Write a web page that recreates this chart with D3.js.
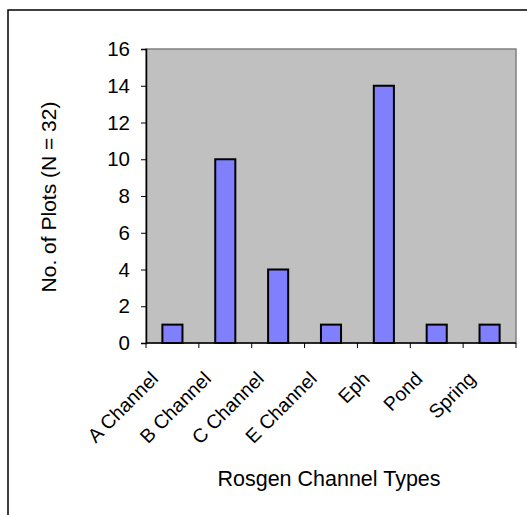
<!DOCTYPE html>
<html lang="en">
<head>
    <meta charset="UTF-8">
    <title>Rosgen Channel Types</title>
    <script src="https://cdn.jsdelivr.net/npm/d3@7/dist/d3.min.js"></script>
    <style>
        body { margin: 0; background: #fff; }
        text { font-family: "Liberation Sans", Arial, sans-serif; fill: #000; }
    </style>
</head>
<body>
<svg width="527" height="515" id="main"></svg>
<script>
    const categories = ['A Channel', 'B Channel', 'C Channel', 'E Channel', 'Eph', 'Pond', 'Spring'];
    const plots = [1, 10, 4, 1, 14, 1, 1];
    const yTicks = [0, 2, 4, 6, 8, 10, 12, 14, 16];

    let svg = d3.select('#main');
    let margin = {top: 49, left: 146, right: 11, bottom: 172};
    const innerWidth = 527 - margin.left - margin.right;
    const innerHeight = 515 - margin.top - margin.bottom;

    // outer frame (cut off at right and bottom in the original)
    svg.append('rect').attr('x', 8).attr('y', 10).attr('width', 600).attr('height', 600)
        .attr('fill', 'none').attr('stroke', '#000').attr('stroke-width', 1.5);

    let g = svg.append('g').attr('transform', `translate(${margin.left}, ${margin.top})`);

    let xScale = d3.scaleBand().domain(categories).range([0, innerWidth]).paddingInner(0.62).paddingOuter(0.31);
    let xBand = d3.scaleBand().domain(categories).range([0, innerWidth]);
    let yScale = d3.scaleLinear().domain([0, 16]).range([innerHeight, 0]);

    g.append('rect').attr('width', innerWidth).attr('height', innerHeight)
        .attr('fill', '#c0c0c0').attr('stroke', '#808080').attr('stroke-width', 1.5);

    g.selectAll('.bar').data(categories).enter().append('rect')
        .attr('class', 'bar')
        .attr('x', d => xScale(d))
        .attr('y', (d, i) => yScale(plots[i]))
        .attr('width', xScale.bandwidth())
        .attr('height', (d, i) => innerHeight - yScale(plots[i]))
        .attr('fill', '#8080ff').attr('stroke', '#000').attr('stroke-width', 2);

    let yAxis = d3.axisLeft(yScale).tickValues(yTicks).tickSize(5).tickPadding(11);
    let ya = g.append('g').call(yAxis);
    ya.selectAll('text').attr('font-size', '20.5px').style('font-family', '"Liberation Sans", Arial, sans-serif');

    // x axis: ticks sit on the band boundaries
    let xa = g.append('g').attr('transform', `translate(0, ${innerHeight})`);
    xa.append('line').attr('x1', 0).attr('x2', innerWidth).attr('stroke', '#000').attr('stroke-width', 1.5);
    xa.selectAll('.xt').data(categories.concat(['end'])).enter().append('line')
        .attr('x1', (d, i) => i * xBand.step()).attr('x2', (d, i) => i * xBand.step())
        .attr('y1', 0).attr('y2', 5).attr('stroke', '#000');
    xa.selectAll('.xl').data(categories).enter().append('text')
        .attr('text-anchor', 'end')
        .attr('font-size', '19.5px')
        .attr('transform', d => `translate(${xBand(d) + xBand.bandwidth() / 2 - 13}, 37) rotate(-45)`)
        .text(d => d);

    ya.select('.domain').attr('stroke-width', 1.5);
    ya.selectAll('.tick line').attr('stroke-width', 1);

    svg.append('text').text('No. of Plots (N = 32)')
        .attr('transform', 'translate(56, 197) rotate(-90)')
        .attr('text-anchor', 'middle').attr('font-size', '21px');

    svg.append('text').text('Rosgen Channel Types')
        .attr('x', 329).attr('y', 486)
        .attr('text-anchor', 'middle').attr('font-size', '21.5px');
</script>
</body>
</html>
